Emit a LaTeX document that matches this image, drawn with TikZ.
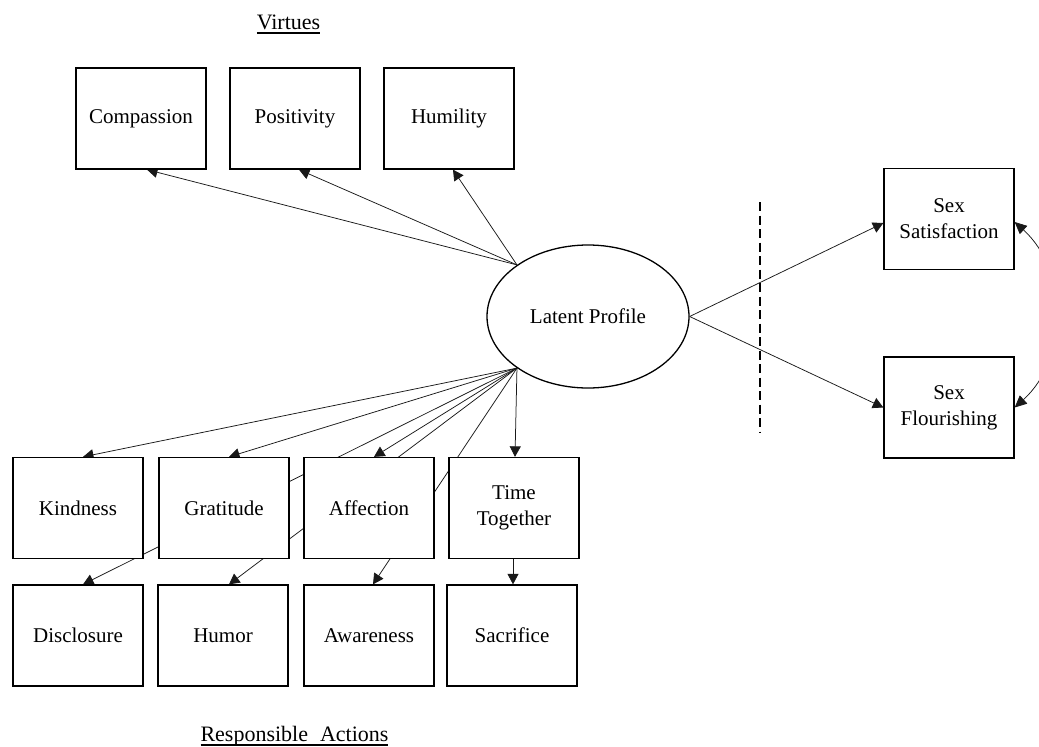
\documentclass[tikz,border=0pt]{standalone}
\usepackage{fontspec}
\setmainfont{Liberation Serif}
\usetikzlibrary{shapes.geometric,arrows.meta,backgrounds}
\newcommand\wordul[1]{\setbox0\hbox{#1}\rlap{\rule[-4.5pt]{\wd0}{1.1pt}}\box0}
\begin{document}
\begin{tikzpicture}[x={(1pt,0pt)},y={(0pt,-1pt)},
  box/.style={draw, line width=1.3pt, fill=white, minimum width=130pt, minimum height=101pt, inner sep=0pt, align=center, font=\fontsize{21}{26}\selectfont},
  latent/.style={ellipse, draw, line width=1.3pt, fill=white, minimum width=202pt, minimum height=143pt, inner sep=0pt, font=\fontsize{21}{26}\selectfont},
  conn/.style={line width=0.75pt, draw=black!90, -{Triangle[length=10.5pt,width=11pt]}},
  curv/.style={line width=0.75pt, draw=black!90, {Triangle[length=12pt,width=11pt]}-{Triangle[length=12pt,width=11pt]}},
  divider/.style={line width=1.3pt, dash pattern=on 9pt off 4.5pt},
  heading/.style={font=\fontsize{22}{26}\selectfont, inner sep=0pt, anchor=base}]
\useasboundingbox (0,0) rectangle (1039,747);
% headings
\node[heading] (virt) at (288.5,29) {\wordul{Virtues}};
\node[heading] (resp) at (294.5,741) {\wordul{Responsible\hspace{12pt}Actions}};
% virtues
\node[box] (comp) at (141,118.5) {Compassion};
\node[box] (posi) at (295,118.5) {Positivity};
\node[box] (humi) at (449,118.5) {Humility};
% responsible actions
\node[box] (kind) at (78,508) {Kindness};
\node[box] (grat) at (224,508) {Gratitude};
\node[box] (affe) at (369,508) {Affection};
\node[box] (time) at (514,508) {Time\\Together};
\node[box] (disc) at (78,635.5) {Disclosure};
\node[box] (humo) at (223,635.5) {Humor};
\node[box] (awar) at (369,635.5) {Awareness};
\node[box] (sacr) at (512,635.5) {Sacrifice};
% outcomes
\node[box] (sat) at (949,219) {Sex\\Satisfaction};
\node[box] (flo) at (949,407.5) {Sex\\Flourishing};
% latent
\node[latent] (lat) at (588,316.5) {Latent Profile};
% divider
\coordinate (d1) at (760,202);
\coordinate (d2) at (760,432);
\draw[divider] (d1) -- (d2);
\begin{pgfonlayer}{background}
\draw[conn] (lat.144) -- ([xshift=6pt]comp.south);
\draw[conn] (lat.144) -- ([xshift=4pt]posi.south);
\draw[conn] (lat.144) -- ([xshift=4pt]humi.south);
\draw[conn] (lat.216) -- ([xshift=5pt]kind.north);
\draw[conn] (lat.216) -- ([xshift=5pt]grat.north);
\draw[conn] (lat.216) -- ([xshift=5pt]affe.north);
\draw[conn] (lat.216) -- ([xshift=1pt]time.north);
\draw[conn] (lat.216) -- ([xshift=5pt]disc.north);
\draw[conn] (lat.216) -- ([xshift=6pt]humo.north);
\draw[conn] (lat.216) -- ([xshift=4pt]awar.north);
\draw[conn] ([xshift=-1pt]time.south) -- ([xshift=1pt]sacr.north);
\end{pgfonlayer}
\draw[conn] (lat.east) -- ([yshift=-4pt]sat.west);
\draw[conn] (lat.east) -- (flo.west);
\draw[curv] ([yshift=-3pt]sat.east) to[out=-42, in=42] (flo.east);
\end{tikzpicture}
\end{document}
